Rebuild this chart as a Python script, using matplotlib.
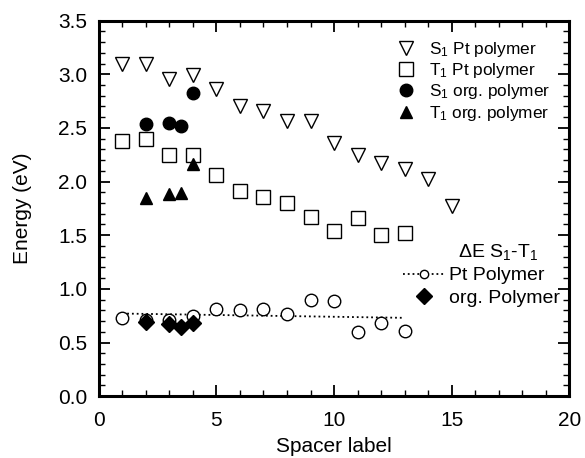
import matplotlib.pyplot as plt
from matplotlib.ticker import MultipleLocator
from matplotlib.lines import Line2D

plt.rcParams['font.family'] = ['Liberation Sans', 'DejaVu Sans']
plt.rcParams['mathtext.fontset'] = 'custom'
plt.rcParams['mathtext.rm'] = 'Liberation Sans'
plt.rcParams['mathtext.it'] = 'Liberation Sans'

# S1 / T1 of Pt polymers
x_pt = [1, 2, 3, 4, 5, 6, 7, 8, 9, 10, 11, 12, 13, 14, 15]
s1_pt = [3.10, 3.10, 2.96, 2.99, 2.86, 2.70, 2.66, 2.56, 2.56, 2.36, 2.25, 2.17, 2.12, 2.02, 1.77]
x_t1pt = [1, 2, 3, 4, 5, 6, 7, 8, 9, 10, 11, 12, 13]
t1_pt = [2.38, 2.40, 2.25, 2.25, 2.06, 1.91, 1.86, 1.80, 1.67, 1.54, 1.66, 1.50, 1.52]

# S1 / T1 of organic polymers
x_org = [2, 3, 3.5, 4]
s1_org = [2.54, 2.55, 2.52, 2.83]
t1_org = [1.85, 1.88, 1.89, 2.16]

# Delta E S1-T1
de_pt = [0.73, 0.71, 0.71, 0.75, 0.81, 0.80, 0.81, 0.77, 0.90, 0.89, 0.60, 0.68, 0.61]
de_org = [0.69, 0.67, 0.64, 0.68]
fit_x = [1, 13]
fit_y = [0.77, 0.73]

fig = plt.figure(figsize=(5.85, 4.58), dpi=100)
ax = fig.add_axes([0.169, 0.135, 0.804, 0.82])

ms = 9
h1, = ax.plot(x_pt, s1_pt, 'v', mfc='white', mec='k', mew=1, ms=ms + 1, ls='none')
h2, = ax.plot(x_t1pt, t1_pt, 's', mfc='white', mec='k', mew=1, ms=ms + 1, ls='none')
h3, = ax.plot(x_org, s1_org, 'o', color='k', ms=ms, ls='none')
h4, = ax.plot(x_org, t1_org, '^', color='k', ms=ms, ls='none')
ax.plot(fit_x, fit_y, 'k:', lw=1.3)
ax.plot(x_t1pt, de_pt, 'o', mfc='white', mec='k', mew=1, ms=ms, ls='none')
h6, = ax.plot(x_org, de_org, 'D', color='k', ms=ms - 1, ls='none')

ax.set_xlim(0, 20)
ax.set_ylim(0, 3.5)
ax.xaxis.set_major_locator(MultipleLocator(5))
ax.xaxis.set_minor_locator(MultipleLocator(1))
ax.yaxis.set_major_locator(MultipleLocator(0.5))
ax.yaxis.set_minor_locator(MultipleLocator(0.1))
ax.set_yticklabels([f'{v:.1f}' for v in ax.get_yticks()])
ax.tick_params(which='both', direction='in', top=True, right=True, labelsize=15)
ax.tick_params(axis='x', pad=11)
ax.tick_params(axis='y', pad=8.5)
ax.tick_params(which='major', length=8, width=1.3)
ax.tick_params(which='minor', length=4, width=1)
for s in ax.spines.values():
    s.set_linewidth(2.2)
ax.set_xlabel('Spacer label', fontsize=15)
ax.set_ylabel('Energy (eV)', fontsize=15)
ax.xaxis.set_label_coords(0.5, -0.11)
ax.yaxis.set_label_coords(-0.143, 0.5)

leg1 = ax.legend([h1, h2, h3, h4],
                 ['S$_1$ Pt polymer', 'T$_1$ Pt polymer', 'S$_1$ org. polymer', 'T$_1$ org. polymer'],
                 loc='upper left', bbox_to_anchor=(0.61, 0.967), frameon=False, fontsize=12.4,
                 handlelength=1.5, handletextpad=0.6, labelspacing=0.13, borderaxespad=0)
ax.add_artist(leg1)

ax.text(0.849, 0.384, '$\\Delta$E S$_1$-T$_1$', transform=ax.transAxes, fontsize=14,
        ha='center', va='center')
h5 = Line2D([], [], color='k', ls=':', lw=1.3, marker='o', mfc='white', mec='k', ms=6)
leg2 = ax.legend([h5, h6], ['Pt Polymer', 'org. Polymer'],
                 loc='upper left', bbox_to_anchor=(0.63, 0.365), frameon=False, fontsize=14,
                 handlelength=2.2, handletextpad=0.15, labelspacing=0.25, borderaxespad=0)

fig.savefig('out.png')
